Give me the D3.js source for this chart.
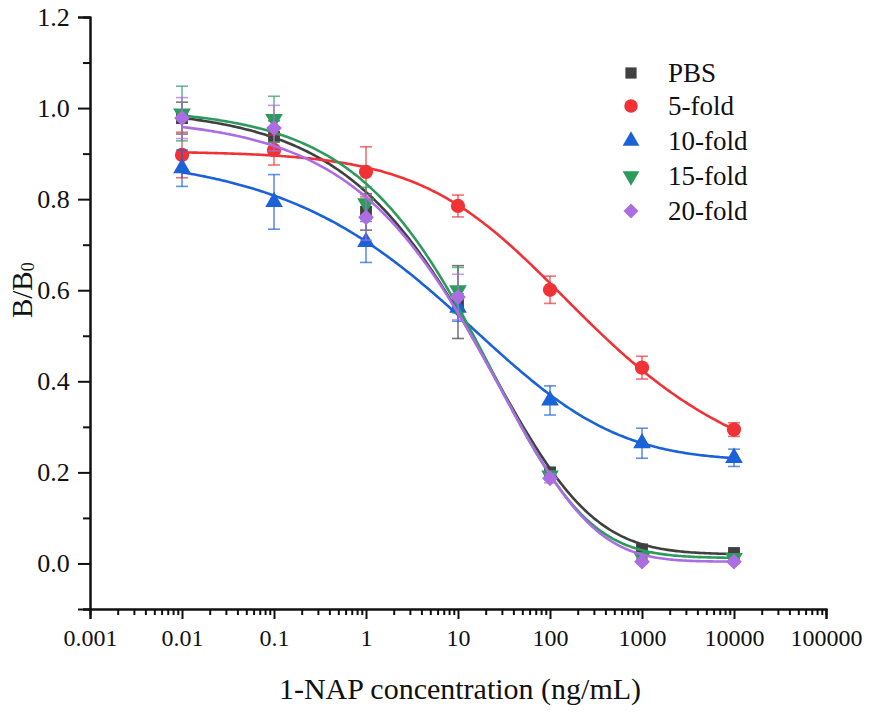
<!DOCTYPE html>
<html>
<head>
<meta charset="utf-8">
<script src="https://cdn.jsdelivr.net/npm/d3@7"></script>
<style>
  body { margin: 0; background: #fff; }
  svg { display: block; }
  text { font-family: "Liberation Serif", "Times New Roman", serif; fill: #111; }
</style>
</head>
<body>
<svg id="chart" width="871" height="713"></svg>
<script>
// ---- data ----
const concentrations = [0.01, 0.1, 1, 10, 100, 1000, 10000];
const seriesNames = ["PBS", "5-fold", "10-fold", "15-fold", "20-fold"];
const valsPBS    = [0.978, 0.937, 0.772, 0.574, 0.200, 0.031, 0.023];
const vals5fold  = [0.897, 0.908, 0.860, 0.785, 0.601, 0.430, 0.294];
const vals10fold = [0.868, 0.794, 0.706, 0.562, 0.358, 0.264, 0.232];
const vals15fold = [0.988, 0.976, 0.791, 0.600, 0.193, 0.014, 0.012];
const vals20fold = [0.978, 0.956, 0.760, 0.585, 0.187, 0.004, 0.004];
const errPBS    = [0.035, 0.035, 0.040, 0.080, 0.010, 0.005, 0.004];
const err5fold  = [0.050, 0.033, 0.055, 0.024, 0.030, 0.025, 0.015];
const err10fold = [0.040, 0.060, 0.045, 0.030, 0.032, 0.033, 0.019];
const err15fold = [0.060, 0.050, 0.035, 0.050, 0.010, 0.004, 0.004];
const err20fold = [0.045, 0.050, 0.050, 0.050, 0.010, 0.004, 0.004];
// logistic fit parameters per series: y = bottom + (top-bottom)/(1+(x/x0)^p)^s
const fitTop    = [1.000, 0.905, 0.900, 1.000, 0.980];
const fitBottom = [0.020, 0.150, 0.225, 0.012, 0.004];
const fitX0     = [395, 44.5, 293, 342, 2261];
const fitP      = [0.490, 0.605, 0.375, 0.524, 0.477];
const fitS      = [4, 0.5, 3, 4, 8];
const xTickValues = [0.001, 0.01, 0.1, 1, 10, 100, 1000, 10000, 100000];
const xTickLabels = ["0.001", "0.01", "0.1", "1", "10", "100", "1000", "10000", "100000"];
const yTickValues = [0.0, 0.2, 0.4, 0.6, 0.8, 1.0, 1.2];
const yTickLabels = ["0.0", "0.2", "0.4", "0.6", "0.8", "1.0", "1.2"];

const allVals = [valsPBS, vals5fold, vals10fold, vals15fold, vals20fold];
const allErrs = [errPBS, err5fold, err10fold, err15fold, err20fold];
const colors = ["#404040", "#f03236", "#1b62d8", "#2d9b5c", "#ac6de2"];
const symbolTypes = [d3.symbolSquare, d3.symbolCircle, d3.symbolTriangle, d3.symbolTriangle, d3.symbolSquare];
const symbolSizes = [140, 160, 135, 135, 125];
const symbolRot = [0, 0, 0, 180, 45];

// ---- layout ----
const svg = d3.select("#chart");
const mLeft = 90, mRight = 826, mTop = 17, mBottom = 609;
const x = d3.scaleLog().domain([0.001, 100000]).range([mLeft, mRight]);
const y = d3.scaleLinear().domain([-0.1, 1.2]).range([mBottom, mTop]);

// axes
const xMinor = [];
for (let e = -3; e < 5; e++) for (let k = 2; k <= 9; k++) xMinor.push(k * Math.pow(10, e));
const yMinor = d3.range(-1, 12, 2).map(v => v / 10);

const xAxisMinor = d3.axisBottom(x).tickValues(xMinor).tickSize(6).tickFormat("");
const xAxis = d3.axisBottom(x).tickValues(xTickValues).tickSize(10)
  .tickFormat((d, i) => xTickLabels[i]);
const yAxisMinor = d3.axisLeft(y).tickValues(yMinor).tickSize(7).tickFormat("");
const yAxis = d3.axisLeft(y).tickValues(yTickValues).tickSize(12)
  .tickFormat((d, i) => yTickLabels[i]);

function styleAxis(g, fs) {
  g.select(".domain").attr("stroke", "#111").attr("stroke-width", 2);
  g.selectAll(".tick line").attr("stroke", "#111").attr("stroke-width", 2);
  g.selectAll(".tick text").attr("font-family", "Liberation Serif, serif").attr("font-size", fs || 24).attr("fill", "#111");
}
svg.append("g").attr("transform", `translate(0,${mBottom})`).call(xAxisMinor).call(styleAxis);
svg.append("g").attr("transform", `translate(0,${mBottom})`).call(xAxis).call(styleAxis, 24)
  .selectAll(".tick text").attr("dy", "1.0em");
svg.append("g").attr("transform", `translate(${mLeft},0)`).call(yAxisMinor).call(styleAxis);
svg.append("g").attr("transform", `translate(${mLeft},0)`).call(yAxis).call(styleAxis, 26)
  .selectAll(".tick text").attr("dx", "-0.2em");

// axis titles
svg.append("text").attr("x", 460).attr("y", 699)
  .attr("text-anchor", "middle").attr("font-size", 30)
  .text("1-NAP concentration (ng/mL)");
const yt = svg.append("text").attr("transform", `translate(32,${y(0.6)}) rotate(-90)`)
  .attr("text-anchor", "middle").attr("font-size", 29);
yt.append("tspan").text("B/B");
yt.append("tspan").attr("font-size", 18).attr("dy", 2).text("0");

// fitted curves
function logistic(i, xv) {
  return fitBottom[i] + (fitTop[i] - fitBottom[i]) / Math.pow(1 + Math.pow(xv / fitX0[i], fitP[i]), fitS[i]);
}
const line = d3.line().x(d => x(d[0])).y(d => y(d[1]));
const lx0 = Math.log10(concentrations[0]), lx1 = Math.log10(concentrations[concentrations.length - 1]);

seriesNames.forEach((name, i) => {
  const g = svg.append("g");
  const pts = d3.range(0, 301).map(k => {
    const xv = Math.pow(10, lx0 + (lx1 - lx0) * k / 300);
    return [xv, logistic(i, xv)];
  });
  g.append("path").datum(pts).attr("d", line).attr("fill", "none")
    .attr("stroke", colors[i]).attr("stroke-width", 2.6);

  const vals = allVals[i], errs = allErrs[i];
  const eb = g.append("g").attr("stroke", colors[i]).attr("stroke-opacity", 0.7).attr("stroke-width", 1.6);
  concentrations.forEach((c, j) => {
    const cx = x(c), y1 = y(vals[j] + errs[j]), y2 = y(vals[j] - errs[j]);
    eb.append("line").attr("x1", cx).attr("x2", cx).attr("y1", y1).attr("y2", y2);
    eb.append("line").attr("x1", cx - 6).attr("x2", cx + 6).attr("y1", y1).attr("y2", y1);
    eb.append("line").attr("x1", cx - 6).attr("x2", cx + 6).attr("y1", y2).attr("y2", y2);
  });
  const sym = d3.symbol().type(symbolTypes[i]).size(symbolSizes[i]);
  g.selectAll("path.pt").data(concentrations).enter().append("path").attr("class", "pt")
    .attr("d", sym)
    .attr("transform", (c, j) => `translate(${x(c)},${y(vals[j])}) rotate(${symbolRot[i]})`)
    .attr("fill", colors[i]);
});

// legend
const legY = [73, 106, 141, 176, 211];
seriesNames.forEach((name, i) => {
  const sym = d3.symbol().type(symbolTypes[i]).size(symbolSizes[i] * 0.9);
  svg.append("path").attr("d", sym)
    .attr("transform", `translate(631,${legY[i]}) rotate(${symbolRot[i]})`)
    .attr("fill", colors[i]);
  svg.append("text").attr("x", 668).attr("y", legY[i] + 9).attr("font-size", 27).text(name);
});
</script>
</body>
</html>
